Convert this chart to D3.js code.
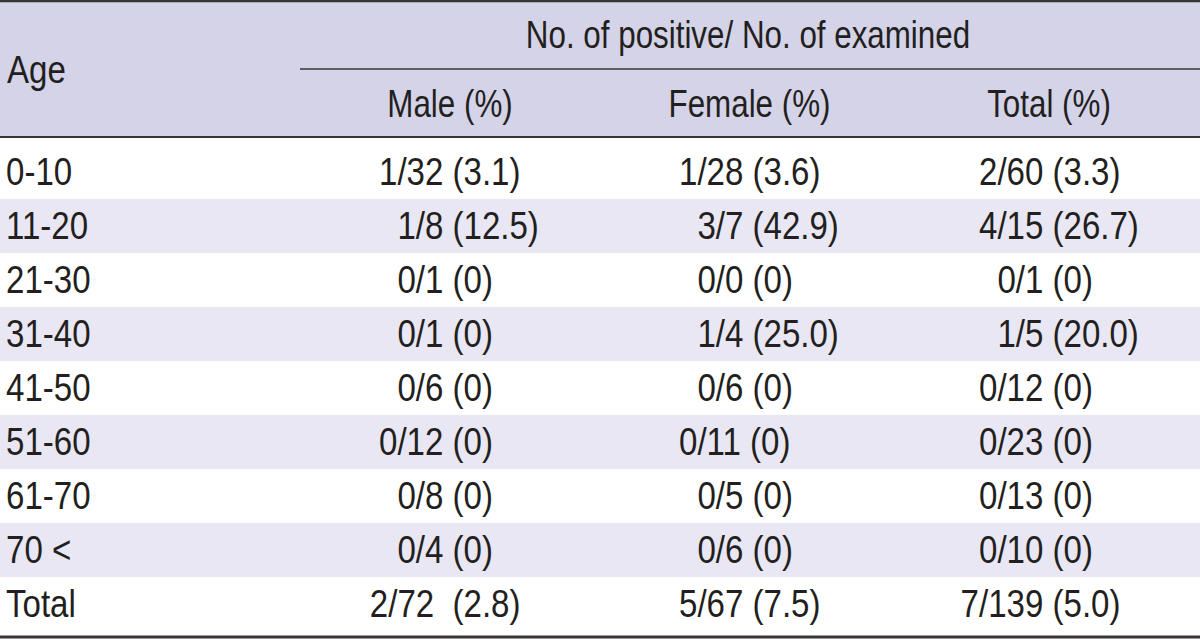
<!DOCTYPE html>
<html><head><meta charset="utf-8">
<script src="https://cdn.jsdelivr.net/npm/d3@7"></script>
<style>
html,body{margin:0;padding:0;background:#fff;}
svg text{font-family:"Liberation Sans",Arial,sans-serif;fill:#231f20;}
</style></head>
<body><svg id="t" width="1200" height="639"></svg>
<script>
// ---- data ----
const ages   = ["0-10","11-20","21-30","31-40","41-50","51-60","61-70","70 <","Total"];
const male   = ["1/32 (3.1)","1/8 (12.5)","0/1 (0)","0/1 (0)","0/6 (0)","0/12 (0)","0/8 (0)","0/4 (0)","2/72  (2.8)"];
const female = ["1/28 (3.6)","3/7 (42.9)","0/0 (0)","1/4 (25.0)","0/6 (0)","0/11 (0)","0/5 (0)","0/6 (0)","5/67 (7.5)"];
const total  = ["2/60 (3.3)","4/15 (26.7)","0/1 (0)","1/5 (20.0)","0/12 (0)","0/23 (0)","0/13 (0)","0/10 (0)","7/139 (5.0)"];
const spanHeader = "No. of positive/ No. of examined";
const rowHeader = "Age";
const colHeaders = ["Male (%)","Female (%)","Total (%)"];

// ---- layout ----
const W = 1200, H = 639;
const svg = d3.select("#t");
const FS = 38, SX = 0.87, SXH = 0.825;
const headerBg = "#d4d3e8", stripe = "#e8e7f3", lineCol = "#3a3434";
const headTop = 2, headBottom = 137, midLine = 69, tableBottom = 637;
const y = d3.scaleBand().domain(ages).range([145, 631]).padding(0);
const colX = d3.scalePoint().domain(colHeaders).range([450, 1049]);
const colBase = {"Male (%)":379, "Female (%)":679, "Total (%)":979};
const cols = [male, female, total];

svg.append("rect").attr("x",0).attr("y",headTop).attr("width",W).attr("height",headBottom-headTop).attr("fill",headerBg);

svg.selectAll("rect.stripe").data(ages.filter((d,i)=>i%2===1)).join("rect")
  .attr("class","stripe").attr("x",0).attr("width",W)
  .attr("y",d=>y(d)).attr("height",y.bandwidth()).attr("fill",stripe);

svg.append("line").attr("x1",0).attr("x2",W).attr("y1",1).attr("y2",1).attr("stroke",lineCol).attr("stroke-width",2.5);
svg.append("line").attr("x1",300).attr("x2",W).attr("y1",midLine).attr("y2",midLine).attr("stroke",lineCol).attr("stroke-width",1.5);
svg.append("line").attr("x1",0).attr("x2",W).attr("y1",headBottom).attr("y2",headBottom).attr("stroke",lineCol).attr("stroke-width",1.8);
svg.append("line").attr("x1",0).attr("x2",W).attr("y1",tableBottom).attr("y2",tableBottom).attr("stroke",lineCol).attr("stroke-width",3);

function place(sel, xf, yf, sx){
  sx = sx || SX;
  sel.attr("font-size",FS)
     .attr("transform",(d,i)=>`translate(${typeof xf==="function"?xf(d,i):xf},${typeof yf==="function"?yf(d,i):yf}) scale(${sx},1)`);
  return sel;
}

svg.append("text").text(rowHeader).call(place,7,83);
svg.append("text").attr("text-anchor","middle").text(spanHeader).call(place,748,48,SXH);
svg.selectAll("text.ch").data(colHeaders).join("text").attr("class","ch")
  .attr("text-anchor","middle").text(d=>d).call(place,d=>colX(d),117,SXH);

const probe = svg.append("text").attr("font-size",FS).text("0");
const digitW = probe.node().getComputedTextLength()*SX;
probe.text("0 0");
const spaceW = probe.node().getComputedTextLength()*SX - 2*digitW;
probe.remove();

const baseline = d => y(d) + 40;

svg.selectAll("text.age").data(ages).join("text").attr("class","age")
  .text(d=>d).call(place,6,d=>baseline(d));

colHeaders.forEach((c,ci)=>{
  svg.selectAll("text.c"+ci).data(cols[ci].map((v,i)=>({v,age:ages[i]}))).join("text")
    .attr("class","c"+ci)
    .attr("xml:space","preserve").style("white-space","pre")
    .text(d=>d.v)
    .call(place, d=>{
      const den = d.v.split("/")[1].split(" ")[0];
      let x = colBase[c] + (2-den.length)*digitW;
      if (d.v.includes("  ")) x -= spaceW;
      return x;
    }, d=>baseline(d.age));
});
</script></body></html>
